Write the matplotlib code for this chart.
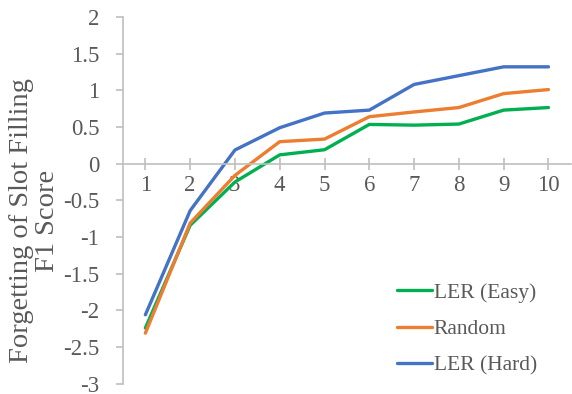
import matplotlib
matplotlib.use('Agg')
import matplotlib.pyplot as plt

# ================= DATA =================
steps = [1, 2, 3, 4, 5, 6, 7, 8, 9, 10]
ler_easy = [-2.24, -0.84, -0.25, 0.12, 0.19, 0.535, 0.525, 0.54, 0.73, 0.765]
random_order = [-2.31, -0.81, -0.16, 0.30, 0.335, 0.64, 0.705, 0.765, 0.955, 1.01]
ler_hard = [-2.06, -0.64, 0.186, 0.49, 0.69, 0.73, 1.08, 1.20, 1.32, 1.32]
y_ticks = [-3, -2.5, -2, -1.5, -1, -0.5, 0, 0.5, 1, 1.5, 2]

plt.rcParams['font.family'] = ['Liberation Serif', 'DejaVu Serif']
GRAY = '#595959'
AXIS = '#BFBFBF'

fig = plt.figure(figsize=(5.72, 3.94), dpi=100)
ax = fig.add_axes([0.215, 0.026, 0.783, 0.931])

ax.plot(steps, ler_easy, color='#00B050', lw=2.4, label='LER (Easy)', solid_capstyle='round')
ax.plot(steps, random_order, color='#ED7D31', lw=2.4, label='Random', solid_capstyle='round')
ax.plot(steps, ler_hard, color='#4472C4', lw=2.4, label='LER (Hard)', solid_capstyle='round')

ax.set_xlim(0.5, 10.5)
ax.set_ylim(-3, 2)
ax.set_xticks(steps)
ax.set_yticks(y_ticks)
ax.set_yticklabels([f'{v:g}' for v in y_ticks])

for s in ['top', 'right']:
    ax.spines[s].set_visible(False)
ax.spines['bottom'].set_position(('data', 0))
for s in ['left', 'bottom']:
    ax.spines[s].set_color(AXIS)
    ax.spines[s].set_linewidth(1.2)

ax.tick_params(axis='x', direction='inout', length=9, width=1.2, color=AXIS,
               labelsize=16.5, labelcolor=GRAY, pad=4)
ax.tick_params(axis='y', direction='out', length=5, width=1.2, color=AXIS,
               labelsize=16.5, labelcolor=GRAY, pad=12)

fig.text(0.06, 1 - 221 / 394, 'Forgetting of Slot Filling\nF1 Score', rotation=90,
         ha='center', va='center', multialignment='center', fontsize=20.5,
         color=GRAY, linespacing=1.05)

ax.legend(loc='lower right', bbox_to_anchor=(0.968, -0.03), frameon=False, fontsize=15.5,
          labelcolor=GRAY, handlelength=1.6, handletextpad=0.1, labelspacing=0.75)

fig.savefig('out.png', dpi=100)
